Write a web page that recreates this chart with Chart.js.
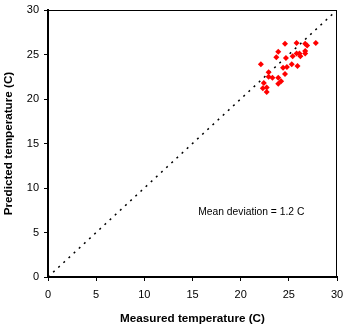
<!DOCTYPE html>
<html>
<head>
<meta charset="utf-8">
<script src="https://cdn.jsdelivr.net/npm/chart.js@4"></script>
<style>
  html, body { margin: 0; padding: 0; background: #fff; }
  #wrap { width: 344px; height: 328px; }
</style>
</head>
<body>
<div id="wrap"><canvas id="c"></canvas></div>
<script>
// measured (x) and predicted (y) temperatures
const measured = [24.6, 25.8, 26.7, 26.9, 27.8, 23.9, 23.7, 25.4, 25.8, 26.1, 26.2, 26.7, 26.7,
  24.7, 22.1, 25.3, 25.9, 24.8, 24.4, 24.6, 22.9, 23.3, 22.9, 23.9, 24.2, 23.9, 22.4, 22.7, 22.3, 22.7];
const predicted = [26.2, 26.3, 26.2, 26.0, 26.3, 25.3, 24.7, 24.8, 25.1, 25.1, 24.8, 25.4, 25.1,
  24.6, 23.9, 23.9, 23.7, 23.6, 23.5, 22.8, 23.0, 22.4, 22.5, 22.4, 22.0, 21.7, 21.8, 21.3, 21.2, 20.8];
const lineX = [0, 30];
const tickValues = [0, 5, 10, 15, 20, 25, 30];
const note = 'Mean deviation = 1.2 C';
const notePos = [21.1, 7.3];

const FONT = 'Arial, "Liberation Sans", sans-serif';

const frame = {
  id: 'frame',
  afterDatasetsDraw(chart) {
    const { ctx, chartArea: a, scales } = chart;
    ctx.save();
    ctx.strokeStyle = '#000';
    ctx.lineWidth = 1;
    ctx.beginPath();
    ctx.moveTo(a.left, a.top + 0.5);
    ctx.lineTo(a.right - 0.5, a.top + 0.5);
    ctx.lineTo(a.right - 0.5, a.bottom);
    ctx.stroke();
    ctx.fillStyle = '#000';
    ctx.font = '10.3px ' + FONT;
    ctx.textAlign = 'center';
    ctx.textBaseline = 'middle';
    ctx.fillText(note, scales.x.getPixelForValue(notePos[0]), scales.y.getPixelForValue(notePos[1]));
    ctx.restore();
  }
};

const axis = (title, fitKey, fitSize, tickPad, titlePad) => ({
  type: 'linear',
  min: 0,
  max: 30,
  afterBuildTicks: s => { s.ticks = tickValues.map(v => ({ value: v })); },
  afterFit: s => {
    s[fitKey] = fitSize;
    s.paddingLeft = s.paddingRight = s.paddingTop = s.paddingBottom = 0;
  },
  border: { color: '#000', width: 2 },
  grid: { drawOnChartArea: false, color: '#000', tickLength: 4, lineWidth: 1 },
  ticks: { color: '#000', font: { family: FONT, size: 11 }, padding: tickPad },
  title: { display: true, text: title, color: '#000', font: { family: FONT, size: 11.7, weight: 'bold' }, padding: titlePad }
});

new Chart(document.getElementById('c'), {
  type: 'scatter',
  data: {
    datasets: [{
      data: measured.map((m, i) => ({ x: m, y: predicted[i] })),
      pointStyle: 'rectRot',
      radius: 3,
      backgroundColor: '#ff0000',
      borderColor: '#ff0000',
      borderWidth: 0
    }, {
      type: 'line',
      data: lineX.map(v => ({ x: v, y: v })),
      borderColor: '#000',
      borderWidth: 1.5,
      borderDash: [2, 5],
      pointRadius: 0,
      fill: false
    }]
  },
  options: {
    responsive: true,
    maintainAspectRatio: false,
    animation: false,
    layout: { padding: { top: 10, right: 7, left: 0, bottom: 0 } },
    plugins: { legend: { display: false }, tooltip: { enabled: false } },
    scales: {
      x: axis('Measured temperature (C)', 'height', 51, 7, { top: 4, bottom: 2 }),
      y: axis('Predicted temperature (C)', 'width', 48, 5, 2)
    }
  },
  plugins: [frame]
});
</script>
</body>
</html>
